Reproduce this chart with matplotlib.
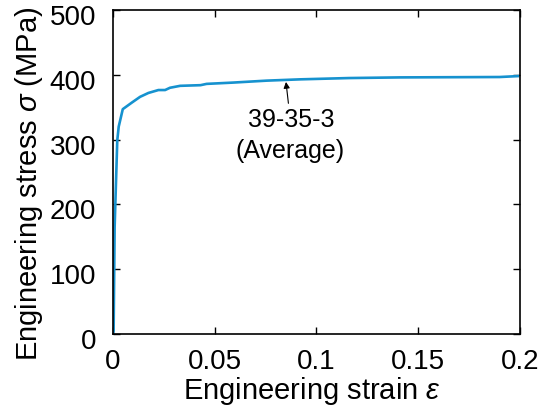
import matplotlib.pyplot as plt
from matplotlib.transforms import ScaledTranslation

plt.rcParams['font.family'] = ['Liberation Sans', 'DejaVu Sans']
plt.rcParams['mathtext.fontset'] = 'custom'
plt.rcParams['mathtext.it'] = 'Liberation Sans:italic'
plt.rcParams['mathtext.rm'] = 'Liberation Sans'

# stress-strain curve
strain = [0.0, 0.0003, 0.0008, 0.0013, 0.0021, 0.0028, 0.0048, 0.0092, 0.0133,
          0.0174, 0.0223, 0.0256, 0.028, 0.033, 0.043, 0.046, 0.059, 0.0755,
          0.092, 0.116, 0.141, 0.19, 0.199]
stress = [0, 5, 165, 217, 299, 320, 347, 357, 366, 372, 376.5, 376.5, 380,
          383, 384, 386, 388, 391, 393, 395, 396, 396.6, 398]

xticks = [0, 0.05, 0.1, 0.15, 0.2]
xticklabels = ['0', '0.05', '0.1', '0.15', '0.2']
yticks = [0, 100, 200, 300, 400, 500]

fig = plt.figure(figsize=(5.47, 4.12), dpi=100)
ax = fig.add_axes([0.2066, 0.1893, 0.744, 0.7864])

ax.plot(strain, stress, color='#1692cf', lw=1.9)

# label with a small arrow pointing at the curve
ax.annotate('', xy=(0.0850, 389), xytext=(0.0862, 356),
            arrowprops=dict(arrowstyle='-|>', lw=0.8, color='black',
                            mutation_scale=9, shrinkA=0, shrinkB=0))
ax.text(0.0875, 331, '39-35-3', ha='center', va='center', fontsize=18)
ax.text(0.0872, 282, '(Average)', ha='center', va='center', fontsize=18)

ax.set_xlim(0, 0.2)
ax.set_ylim(0, 500)
ax.set_xticks(xticks)
ax.set_xticklabels(xticklabels)
ax.set_yticks(yticks)
ax.tick_params(direction='in', top=True, right=True, length=5, width=1,
               labelsize=20)
ax.tick_params(axis='x', pad=11)
ax.tick_params(axis='y', pad=12)
for s in ax.spines.values():
    s.set_linewidth(1.2)

off = ScaledTranslation(0, -5 / 100, fig.dpi_scale_trans)
for lab in ax.get_yticklabels():
    lab.set_transform(lab.get_transform() + off)

ax.set_xlabel(r'Engineering strain $\it{\varepsilon}$', fontsize=21)
ax.xaxis.set_label_coords(0.49, -0.125)
ax.set_ylabel(r'Engineering stress $\it{\sigma}$ (MPa)', fontsize=21, va='center')
ax.yaxis.set_label_coords(-0.206, 0.4645)

fig.savefig('out.png', dpi=100)
